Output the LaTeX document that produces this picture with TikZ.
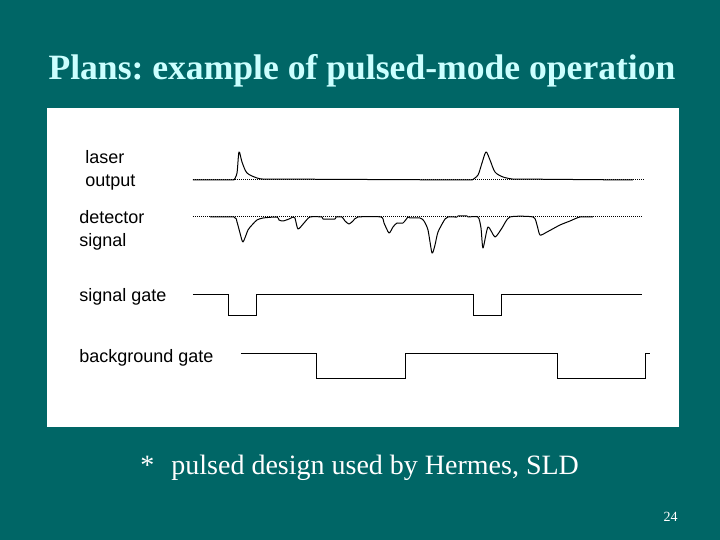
\documentclass[tikz,border=0pt]{standalone}
\usepackage{fontspec}
\setmainfont{Liberation Serif}
\setsansfont{Liberation Sans}
\usepackage{xcolor}
\definecolor{slideteal}{RGB}{0,102,102}
\definecolor{titlecyan}{RGB}{204,255,255}
\usepackage{tikz}
\usetikzlibrary{positioning}
\frenchspacing

\begin{document}
\begin{tikzpicture}[
    x=0.5pt, y=-0.5pt,
    sig/.style={font=\sffamily\fontsize{9}{11.5}\selectfont, inner sep=0pt, anchor=base west, align=left},
    trace/.style={draw=black, line width=0.5pt, line join=round},
    zero/.style={draw=black, line width=0.5pt, dash pattern=on 0.5pt off 0.5pt},
    gate/.style={trace, line join=miter}
]

% ==================== SLIDE ====================
\fill[slideteal] (0,0) rectangle (720,540);
\useasboundingbox (0,0) rectangle (720,540);
\node[font=\bfseries\fontsize{17.8}{20}\selectfont, text=titlecyan, anchor=base, inner sep=0pt] (title) at (362,80) {Plans: example of pulsed-mode operation};
\fill[white] (47,108) rectangle (679,427);

% ==================== LABELS ====================
\node[sig] (laser) at (85,187) {laser\\output};
\node[sig] (detector) at (79,247) {detector\\signal};
\node[sig] (siggate) at (79,302) {signal gate};
\node[sig] (bggate) at (79,363) {background gate};

% ==================== LASER OUTPUT ====================
\draw[zero] (193,180) -- (645,180);
\draw[trace] (193,180) -- (234,180)
    plot[smooth, tension=0.5] coordinates {(234,180) (237,173) (239,152) (242,162) (247,173) (257,178) (262,179)}
    -- (472,180)
    plot[smooth, tension=0.5] coordinates {(472,180) (478,175) (482,163) (486,152) (490,160) (495,172) (503,177) (512,179)}
    -- (633,180);

% ==================== DETECTOR SIGNAL ====================
\draw[zero] (193,217) -- (643,217);
\draw[trace] plot[smooth, tension=0.4] coordinates {
    (210,217) (234,217) (237,222) (240,233) (243,242) (248,230) (252,225) (257,220) (263,218) (277,217)
    (279,220) (283,221) (289,219) (293,217) (295,218) (298,229) (304,223) (310,217)
    (322,217) (323,219) (335,219) (336,217) (342,217) (345,221) (349,224) (353,221) (358,217)
    (381,217) (384,223) (389,233) (393,227) (397,223) (403,223) (408,217) (410,218) (420,218)
    (424,221) (428,230) (432,253) (435,245) (438,232) (445,219) (448,217) (457,217) (458,216) (467,216) (468,217)
    (478,217) (481,228) (483,248) (488,227) (495,237) (502,228) (510,217)
    (533,217) (537,225) (540,235) (547,232) (560,225) (570,221) (580,217) (593,217)};

% ==================== SIGNAL GATE ====================
\draw[gate] (193,295) -- (229,295) -- (229,316) -- (257,316) -- (257,295) -- (474,295)
    -- (474,316) -- (502,316) -- (502,295) -- (642,295);

% ==================== BACKGROUND GATE ====================
\draw[gate] (241,354) -- (317,354) -- (317,379) -- (406,379) -- (406,354) -- (558,354)
    -- (558,379) -- (646,379) -- (646,354) -- (650,354);

% ==================== FOOTER ====================
\node[font=\fontsize{14}{16}\selectfont, text=white, anchor=base west, inner sep=0pt] (star) at (140,475) {*};
\node[font=\fontsize{14}{16}\selectfont, text=white, anchor=base west, inner sep=0pt] (note) at (171,475) {pulsed design used by Hermes, SLD};
\node[font=\fontsize{7}{8}\selectfont, text=white, anchor=base east, inner sep=0pt] (page) at (678,522) {24};

\end{tikzpicture}
\end{document}
